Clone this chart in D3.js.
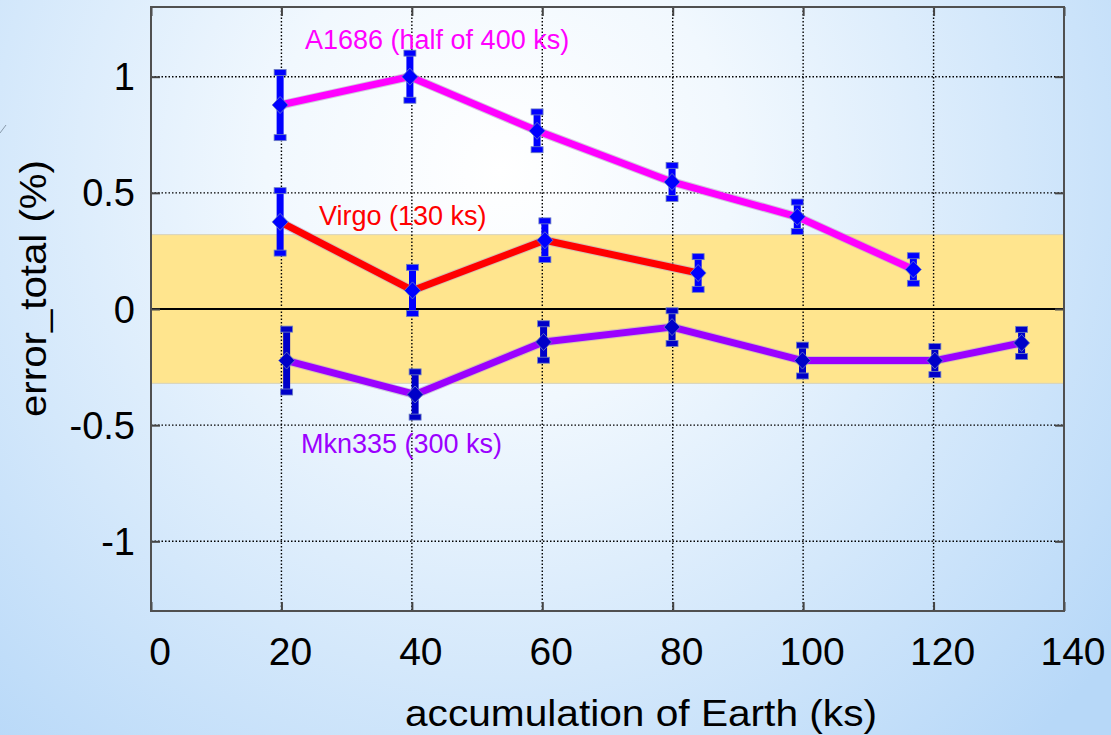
<!DOCTYPE html>
<html>
<head>
<meta charset="utf-8">
<script src="https://cdn.jsdelivr.net/npm/d3@7"></script>
<style>
  body { margin: 0; overflow: hidden; }
  svg { display: block; font-family: "Liberation Sans", Arial, sans-serif; }
</style>
</head>
<body>
<svg id="chart" width="1111" height="735"></svg>
<script>
// axis ticks
const xTicks = [0, 20, 40, 60, 80, 100, 120, 140]
const yTicks = [-1, -0.5, 0, 0.5, 1]
const bandLimit = 0.32

// A1686 (half of 400 ks)
const a1686X = [19.8, 39.7, 59.2, 79.9, 99.1, 116.9]
const a1686Y = [0.878, 1.0, 0.767, 0.547, 0.397, 0.17]
const a1686Err = [0.149, 0.11, 0.09, 0.08, 0.072, 0.068]

// Virgo (130 ks)
const virgoX = [19.8, 40.1, 60.4, 83.9]
const virgoY = [0.375, 0.08, 0.296, 0.155]
const virgoErr = [0.143, 0.108, 0.092, 0.079]

// Mkn335 (300 ks)
const mknX = [20.8, 40.5, 60.2, 79.9, 99.9, 120.2, 133.5]
const mknY = [-0.222, -0.368, -0.142, -0.078, -0.222, -0.222, -0.146]
const mknErr = [0.144, 0.106, 0.087, 0.079, 0.075, 0.069, 0.067]

const series = [
  {label: "A1686 (half of 400 ks)", xs: a1686X, ys: a1686Y, err: a1686Err,
   colour: "#ff00ff", bar: "#0000ff", lx: 305, ly: 49},
  {label: "Virgo (130 ks)", xs: virgoX, ys: virgoY, err: virgoErr,
   colour: "#ff0000", bar: "#0000ff", lx: 319, ly: 225},
  {label: "Mkn335 (300 ks)", xs: mknX, ys: mknY, err: mknErr,
   colour: "#9b00ff", bar: "#0000c8", lx: 301, ly: 453}
]

const svg = d3.select("#chart")
const W = +svg.attr("width"), H = +svg.attr("height")

// page background, a soft radial blue
const defs = svg.append("defs")
const grad = defs.append("radialGradient")
                 .attr("id", "bg")
                 .attr("gradientUnits", "userSpaceOnUse")
                 .attr("cx", 500).attr("cy", 170).attr("r", 780)
grad.append("stop").attr("offset", "0%").attr("stop-color", "#ffffff")
grad.append("stop").attr("offset", "30%").attr("stop-color", "#f1f8fe")
grad.append("stop").attr("offset", "100%").attr("stop-color", "#b7d8f8")
svg.append("rect").attr("width", W).attr("height", H).attr("fill", "url(#bg)")

// small stray stroke at the left edge of the slide
svg.append("line")
   .attr("x1", 0).attr("y1", 133).attr("x2", 6).attr("y2", 125)
   .attr("stroke", "#8899aa").attr("stroke-width", 1)

const pLeft = 151, pRight = 1064, pTop = 7, pBottom = 611

let x = d3.scaleLinear().domain([0, 140]).range([pLeft, pRight])
let y = d3.scaleLinear().domain([-1.3, 1.3]).range([pBottom, pTop])

const plot = svg.append("g")

// yellow band
plot.append("rect")
    .attr("x", pLeft).attr("width", pRight - pLeft)
    .attr("y", y(bandLimit)).attr("height", y(-bandLimit) - y(bandLimit))
    .attr("fill", "#ffe58e")
    .attr("stroke", "#d6d2bc").attr("stroke-width", 1)

// dotted grid
plot.selectAll(".gridx")
    .data(xTicks.filter(d => d > 0 && d < 140))
    .join("line")
    .attr("class", "gridx")
    .attr("x1", d => x(d)).attr("x2", d => x(d))
    .attr("y1", pTop).attr("y2", pBottom)
    .attr("stroke", "#000").attr("stroke-width", 1.4)
    .attr("stroke-dasharray", "1.5,2")

plot.selectAll(".gridy")
    .data(yTicks.filter(d => d != 0))
    .join("line")
    .attr("class", "gridy")
    .attr("x1", pLeft).attr("x2", pRight)
    .attr("y1", d => y(d)).attr("y2", d => y(d))
    .attr("stroke", "#000").attr("stroke-width", 1.4)
    .attr("stroke-dasharray", "1.5,2")

// zero line
plot.append("line")
    .attr("x1", pLeft).attr("x2", pRight)
    .attr("y1", y(0)).attr("y2", y(0))
    .attr("stroke", "#000").attr("stroke-width", 2)

// axes with inward ticks, labels drawn separately
function noLabels(g){
  g.selectAll("text").remove()
  g.select(".domain").remove()
  g.selectAll("line").attr("stroke", "#444").attr("stroke-width", 2)
}
svg.append("g").attr("transform", "translate(0," + pBottom + ")")
   .call(d3.axisBottom(x).tickValues(xTicks).tickSize(-9)).call(noLabels)
svg.append("g").attr("transform", "translate(0," + pTop + ")")
   .call(d3.axisTop(x).tickValues(xTicks).tickSize(-9)).call(noLabels)
svg.append("g").attr("transform", "translate(" + pLeft + ",0)")
   .call(d3.axisLeft(y).tickValues(yTicks).tickSize(-9)).call(noLabels)
svg.append("g").attr("transform", "translate(" + pRight + ",0)")
   .call(d3.axisRight(y).tickValues(yTicks).tickSize(-9)).call(noLabels)

// frame
svg.append("rect")
   .attr("x", pLeft).attr("y", pTop)
   .attr("width", pRight - pLeft).attr("height", pBottom - pTop)
   .attr("fill", "none").attr("stroke", "#505050").attr("stroke-width", 2)

// tick labels
svg.selectAll(".xlab")
   .data(xTicks)
   .join("text")
   .attr("class", "xlab")
   .attr("x", d => x(d) + 9).attr("y", 665)
   .attr("text-anchor", "middle")
   .attr("font-size", 39)
   .attr("fill", "#000")
   .text(d => d)

svg.selectAll(".ylab")
   .data(yTicks)
   .join("text")
   .attr("class", "ylab")
   .attr("x", 135).attr("y", d => y(d) + 13.5)
   .attr("text-anchor", "end")
   .attr("font-size", 38)
   .attr("fill", "#000")
   .text(d => d)

// axis titles
svg.append("text")
   .attr("x", 405).attr("y", 726)
   .attr("font-size", 37)
   .attr("textLength", 472).attr("lengthAdjust", "spacingAndGlyphs")
   .text("accumulation of Earth (ks)")

svg.append("text")
   .attr("transform", "translate(46,417) rotate(-90)")
   .attr("font-size", 36)
   .attr("textLength", 257).attr("lengthAdjust", "spacingAndGlyphs")
   .text("error_total (%)")

// series lines
let line = d3.line()
             .x(d => x(d[0]))
             .y(d => y(d[1]))

series.forEach(s => {
  const pts = s.xs.map((v, i) => [v, s.ys[i], s.err[i]])
  const g = svg.append("g")

  g.append("path").datum(pts)
   .attr("d", line).attr("fill", "none")
   .attr("stroke", "#b8a8c8").attr("stroke-opacity", 0.6).attr("stroke-width", 9)
  g.append("path").datum(pts)
   .attr("d", line).attr("fill", "none")
   .attr("stroke", s.colour).attr("stroke-width", 7)
   .attr("stroke-linejoin", "round")

  // error bars
  const eb = g.selectAll(".eb").data(pts).join("g").attr("class", "eb")
  eb.append("line")
    .attr("x1", d => x(d[0])).attr("x2", d => x(d[0]))
    .attr("y1", d => y(d[1] + d[2])).attr("y2", d => y(d[1] - d[2]))
    .attr("stroke", s.bar).attr("stroke-width", 7)
  eb.append("rect")
    .attr("x", d => x(d[0]) - 6).attr("y", d => y(d[1] + d[2]) - 1)
    .attr("width", 12).attr("height", 6)
    .attr("fill", s.bar).attr("stroke", "#7080c0").attr("stroke-width", 0.8)
  eb.append("rect")
    .attr("x", d => x(d[0]) - 6).attr("y", d => y(d[1] - d[2]) - 5)
    .attr("width", 12).attr("height", 6)
    .attr("fill", s.bar).attr("stroke", "#7080c0").attr("stroke-width", 0.8)
  eb.append("path")
    .attr("d", d => {
      const cx = x(d[0]), cy = y(d[1])
      return "M" + (cx - 8) + "," + cy + "L" + cx + "," + (cy - 8.5) +
             "L" + (cx + 8) + "," + cy + "L" + cx + "," + (cy + 8.5) + "Z"
    })
    .attr("fill", s.bar).attr("stroke", "#7080c0").attr("stroke-width", 0.8)

  // series label
  svg.append("text")
     .attr("x", s.lx).attr("y", s.ly)
     .attr("font-size", 27)
     .attr("fill", s.colour)
     .text(s.label)
})
</script>
</body>
</html>
